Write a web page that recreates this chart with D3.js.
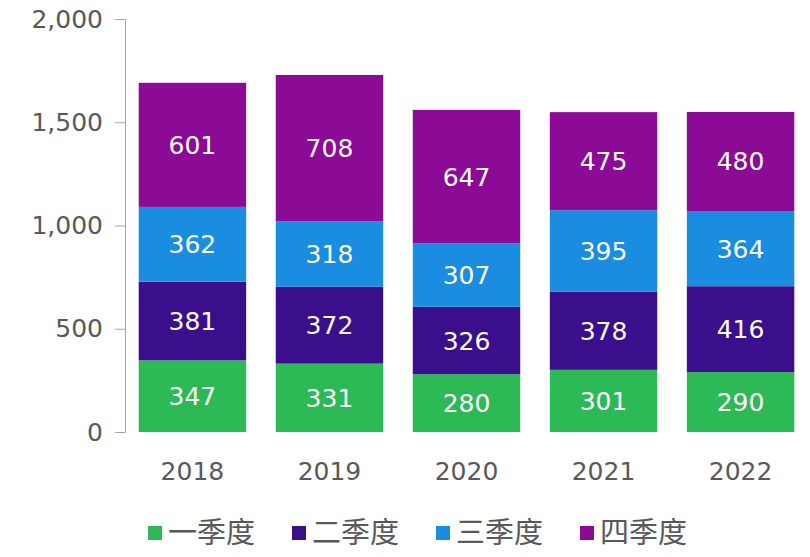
<!doctype html>
<meta charset="utf-8">
<script src="https://cdn.jsdelivr.net/npm/d3@7"></script>
<style>body{margin:0;background:#fff}text{font-family:"DejaVu Sans",sans-serif}</style>
<body>
<svg id="c" width="810" height="557"></svg>
<script>
var years = ["2018","2019","2020","2021","2022"];
var seriesNames = ["一季度","二季度","三季度","四季度"];
var q1 = [347,331,280,301,290];
var q2 = [381,372,326,378,416];
var q3 = [362,318,307,395,364];
var q4 = [601,708,647,475,480];
var colors = ["#2db955","#3b0f8c","#1a8de0","#8b0a96"];

var svg = d3.select("#c");
var x = d3.scaleBand().domain(years).range([125,808]).paddingInner(0.216).paddingOuter(0.1);
var y = d3.scaleLinear().domain([0,2000]).range([432,19]);

var rows = years.map(function(yr,i){ return {year:yr,q0:q1[i],q1:q2[i],q2:q3[i],q3:q4[i]}; });
var stack = d3.stack().keys(["q0","q1","q2","q3"])(rows);

var g = svg.selectAll("g.s").data(stack).enter().append("g").attr("fill",function(d,i){return colors[i];});
g.selectAll("rect").data(function(d){return d;}).enter().append("rect")
  .attr("x",function(d){return x(d.data.year);})
  .attr("width",x.bandwidth())
  .attr("y",function(d){return y(d[1]);})
  .attr("height",function(d){return y(d[0])-y(d[1]);});
g.selectAll("text").data(function(d){return d;}).enter().append("text")
  .attr("x",function(d){return x(d.data.year)+x.bandwidth()/2;})
  .attr("y",function(d){return (y(d[0])+y(d[1]))/2;})
  .attr("dy","0.36em").attr("text-anchor","middle").attr("fill","#fff").attr("font-size",25)
  .text(function(d){return d[1]-d[0];});

var ya = svg.append("g").attr("transform","translate(125,0)")
  .call(d3.axisLeft(y).tickValues([0,500,1000,1500,2000]).tickSize(10).tickPadding(12).tickFormat(d3.format(",")));
ya.selectAll("line,path").attr("stroke","#a6a6a6");
ya.selectAll("text").attr("font-size",25).attr("fill","#595959").style("font-family","DejaVu Sans, sans-serif");

svg.selectAll("text.xl").data(years).enter().append("text")
  .attr("x",function(d){return x(d)+x.bandwidth()/2;}).attr("y",480)
  .attr("text-anchor","middle").attr("font-size",25).attr("fill","#595959")
  .text(function(d){return d;});

var lg = svg.selectAll("g.lg").data(seriesNames).enter().append("g")
  .attr("transform",function(d,i){return "translate("+(148+i*144)+",533)";});
lg.append("rect").attr("y",-7).attr("width",14).attr("height",14).attr("fill",function(d,i){return colors[i];});
lg.append("text").attr("x",20).attr("dy","0.35em").attr("font-size",29).attr("fill","#595959")
  .style("font-family","Noto Sans CJK SC, sans-serif").text(function(d){return d;});
</script>
